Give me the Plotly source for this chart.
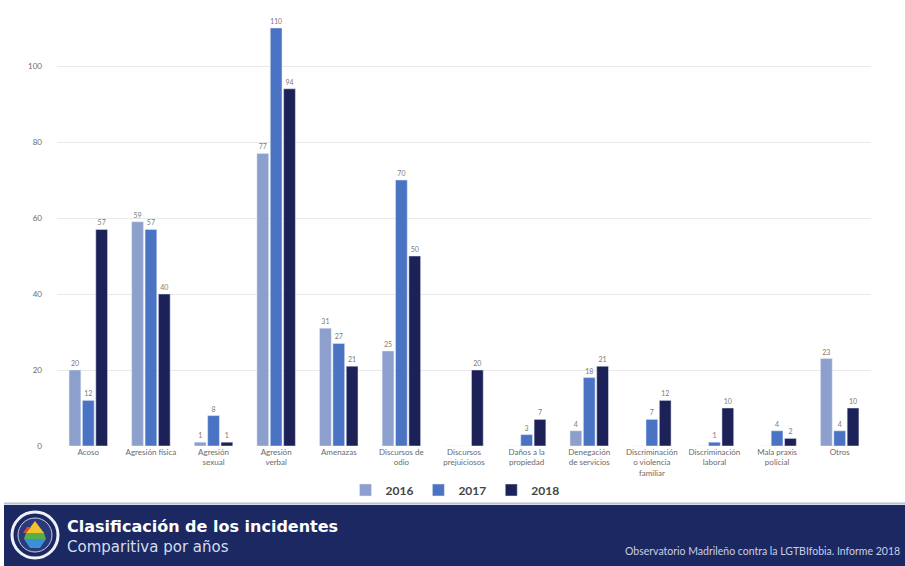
import plotly.graph_objects as go

categories = ["Acoso", "Agresión física", "Agresión<br>sexual", "Agresión<br>verbal", "Amenazas",
              "Discursos de<br>odio", "Discursos<br>prejuiciosos", "Daños a la<br>propiedad",
              "Denegación<br>de servicios", "Discriminación<br>o violencia<br>familiar",
              "Discriminación<br>laboral", "Mala praxis<br>policial", "Otros"]
years = ["2016", "2017", "2018"]
v2016 = [20, 59, 1, 77, 31, 25, 0, 0, 4, 0, 0, 0, 23]
v2017 = [12, 57, 8, 110, 27, 70, 0, 3, 18, 7, 1, 4, 4]
v2018 = [57, 40, 1, 94, 21, 50, 20, 7, 21, 12, 10, 2, 10]
y_ticks = [0, 20, 40, 60, 80, 100]
title = "Clasificación de los incidentes"
subtitle = "Comparitiva por años"
source = "Observatorio Madrileño contra la LGTBIfobia. Informe 2018"

colors = ["#8c9fcd", "#4b73c4", "#1c2258"]

W, H = 905, 566
# page coordinates of the plot area
PL, PR, PT, PB = 57, 871, 8, 446
L, T = PL, PT
R = W - PR
B = H - PB
pw, ph = W - L - R, H - T - B


def px(x):
    return (x - L) / pw


def py(y):
    return (H - B - y) / ph


fig = go.Figure()
for name, vals, c in zip(years, [v2016, v2017, v2018], colors):
    fig.add_trace(go.Bar(
        x=categories, y=vals, name=f"<b>{name}</b>", marker_color=c,
        text=[str(v) if v else "" for v in vals], textposition="outside",
        textfont=dict(size=7, color="#7a7a7a", family="Lato"),
        cliponaxis=False,
    ))

shapes = [
    dict(type="rect", xref="paper", yref="paper", x0=px(4), x1=px(920), y0=py(570), y1=py(505),
         fillcolor="#1b2861", line_width=0, layer="above"),
    dict(type="line", xref="paper", yref="paper", x0=px(4), x1=px(920), y0=py(503.5), y1=py(503.5),
         line=dict(color="#b8c0d6", width=2), layer="above"),
    dict(type="circle", xref="paper", yref="paper", x0=px(12), x1=px(58), y0=py(558), y1=py(512),
         fillcolor="#1b2861", line=dict(color="#eef1f8", width=3), layer="above"),
    dict(type="circle", xref="paper", yref="paper", x0=px(18), x1=px(52), y0=py(552), y1=py(518),
         fillcolor="#2a3a7a", line=dict(color="#c9d0e6", width=1), layer="above"),
    dict(type="path", xref="paper", yref="paper", layer="above", line_width=0, fillcolor="#f2c12e",
         path=f"M {px(35)},{py(521)} L {px(44)},{py(533)} L {px(26)},{py(533)} Z"),
    dict(type="path", xref="paper", yref="paper", layer="above", line_width=0, fillcolor="#56b04a",
         path=f"M {px(26)},{py(533)} L {px(44)},{py(533)} L {px(46)},{py(539)} L {px(24)},{py(539)} Z"),
    dict(type="path", xref="paper", yref="paper", layer="above", line_width=0, fillcolor="#3b8fd6",
         path=f"M {px(24)},{py(539)} L {px(46)},{py(539)} L {px(40)},{py(548)} L {px(30)},{py(548)} Z"),
    dict(type="path", xref="paper", yref="paper", layer="above", line_width=0, fillcolor="#e0463c",
         path=f"M {px(27)},{py(527)} L {px(31)},{py(527)} L {px(26)},{py(533)} L {px(23)},{py(533)} Z"),
]

annotations = [
    dict(text=f"<b>{title}</b>", xref="paper", yref="paper", x=px(65), y=py(526), xanchor="left",
         yanchor="middle", showarrow=False, font=dict(size=16, color="#ffffff", family="DejaVu Sans")),
    dict(text=subtitle, xref="paper", yref="paper", x=px(65), y=py(547), xanchor="left",
         yanchor="middle", showarrow=False, font=dict(size=15, color="#d6dcee", family="DejaVu Sans")),
    dict(text=source, xref="paper", yref="paper", x=px(902), y=py(551), xanchor="right",
         yanchor="middle", showarrow=False, font=dict(size=10.5, color="#c8cfe6", family="Lato")),
]

fig.update_layout(
    width=W, height=H, margin=dict(l=L, r=R, t=T, b=B, autoexpand=False),
    paper_bgcolor="white", plot_bgcolor="white",
    barmode="group", bargap=0.36, bargroupgap=0.12,
    font=dict(family="Lato", color="#595959"),
    xaxis=dict(tickfont=dict(size=8, color="#6a6a6a"), showline=False, ticks="",
               tickangle=0, showgrid=False),
    yaxis=dict(range=[0, ph / 3.8], tickvals=y_ticks, tickfont=dict(size=8, color="#6a6a6a"),
               showgrid=True, gridcolor="#e9e9e9", gridwidth=1, zeroline=False, ticks="",
               showline=False, ticklabelstandoff=14),
    legend=dict(orientation="h", x=px(455), xanchor="center", y=py(490), yanchor="middle",
                font=dict(size=12, color="#454545", family="Lato"), itemwidth=30,
                bgcolor="rgba(0,0,0,0)", traceorder="normal", tracegroupgap=0),
    shapes=shapes, annotations=annotations,
)

fig.write_html("out.html", config={"displayModeBar": False},
               post_script="document.body.style.margin='0';document.body.style.overflow='hidden';")
